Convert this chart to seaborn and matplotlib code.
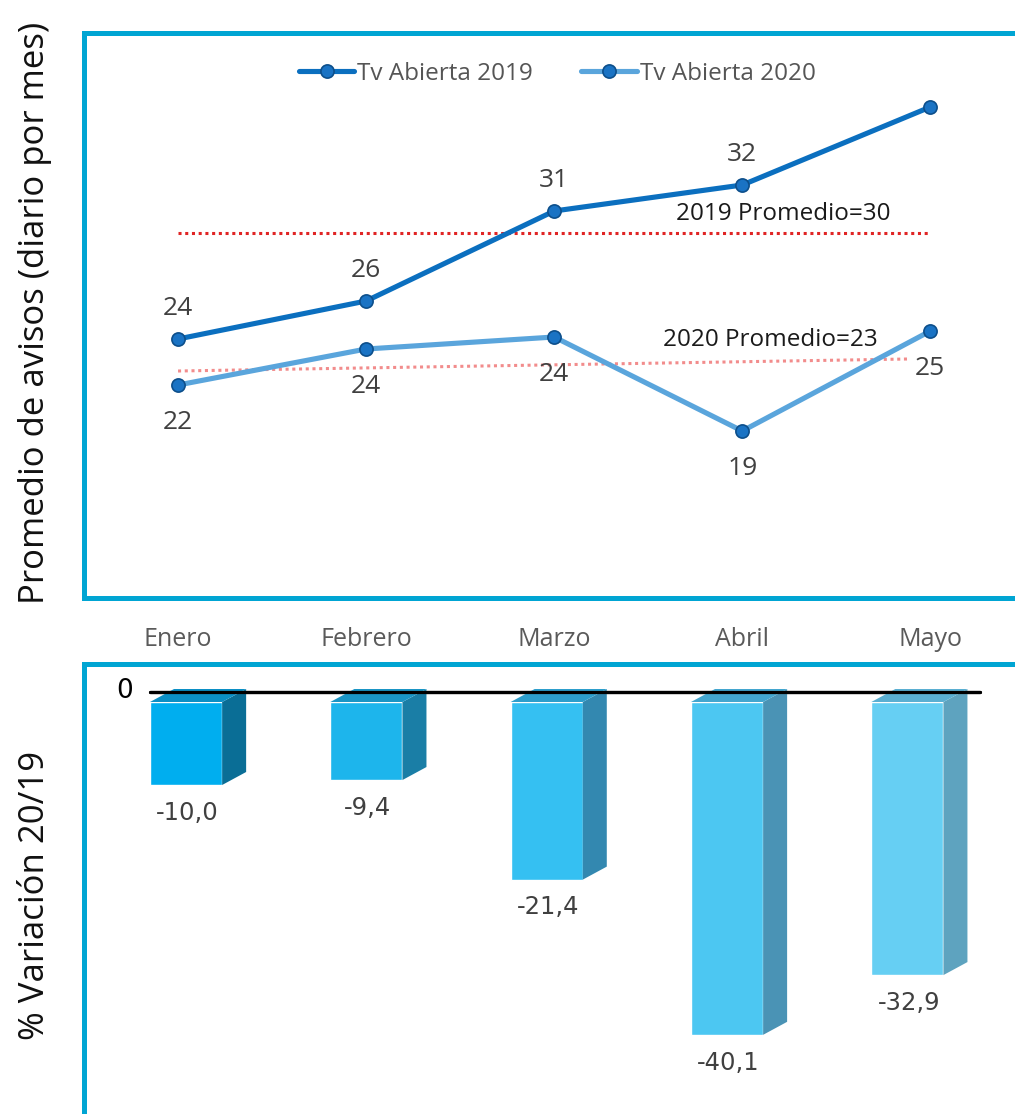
import matplotlib
matplotlib.use("Agg")
import matplotlib.pyplot as plt
import matplotlib.transforms as mtransforms
from matplotlib.patches import Polygon
import seaborn as sns
import pandas as pd

sns.set_theme(style="white")
plt.rcParams["font.family"] = ["Open Sans", "DejaVu Sans"]

# data
months = ["Enero", "Febrero", "Marzo", "Abril", "Mayo"]
tv_2019 = [24.2, 26.1, 30.6, 31.9, 35.8]
tv_2020 = [21.9, 23.7, 24.3, 19.6, 24.6]
labels_2019 = ["24", "26", "31", "32", ""]
labels_2020 = ["22", "24", "24", "19", "25"]
avg_2019 = [29.5, 29.5]
avg_2020 = [22.6, 23.2]
variation = [-10.0, -9.4, -21.4, -40.1, -32.9]
variation_labels = ["-10,0", "-9,4", "-21,4", "-40,1", "-32,9"]

front_colors = ["#00aeef", "#1db5ec", "#35c0f2", "#4cc7f2", "#66cff3"]
side_colors = ["#0a6e96", "#1a7ea6", "#3388b0", "#4a93b5", "#5ea3bf"]
top_colors = ["#0b8fc5", "#1a95c5", "#2d9ecc", "#43a6cf", "#5aafd2"]
border = "#00a5d3"

W, H = 1015, 1114
fig = plt.figure(figsize=(W / 100, H / 100), dpi=100)
ax1 = fig.add_axes([84 / W, 1 - 598 / H, (1030 - 84) / W, (598 - 33) / H])
ax2 = fig.add_axes([84 / W, 1 - 1125 / H, (1030 - 84) / W, (1125 - 664) / H])

# ---- top panel: lines
df = pd.DataFrame({"x": range(5), "y19": tv_2019, "y20": tv_2020})
mk = dict(marker="o", markersize=9.5, markerfacecolor="#1a73c4",
          markeredgecolor="#0d4f8b", markeredgewidth=1.2)
sns.lineplot(data=df, x="x", y="y19", ax=ax1, color="#0b6fbf", lw=3.7,
             label="Tv Abierta 2019", **mk)
sns.lineplot(data=df, x="x", y="y20", ax=ax1, color="#5aa5dc", lw=3.7,
             label="Tv Abierta 2020", **mk)
ax1.plot([0, 4], avg_2019, color="#e02424", lw=2.2, ls=(0, (1, 1.2)), zorder=1)
ax1.plot([0, 3.88], avg_2020, color="#f28c8c", lw=2.2, ls=(0, (1, 1.2)), zorder=1)
ax1.text(3.22, 30.45, "2019 Promedio=30", ha="center", va="center",
         fontsize=17.5, color="#1a1a1a")
ax1.text(3.15, 24.15, "2020 Promedio=23", ha="center", va="center",
         fontsize=17.5, color="#1a1a1a")

for i, (v, t) in enumerate(zip(tv_2019, labels_2019)):
    ax1.annotate(t, (i, v), xytext=(0, 22), textcoords="offset points",
                 ha="center", va="center", fontsize=19, color="#404040")
for i, (v, t) in enumerate(zip(tv_2020, labels_2020)):
    ax1.annotate(t, (i, v), xytext=(0, -27), textcoords="offset points",
                 ha="center", va="center", fontsize=19, color="#404040")

ax1.set_xlim(-0.5, 4.53)
ax1.set_ylim(11.25, 39.5)
ax1.set_yticks([])
ax1.set_xticks(range(5))
ax1.set_xticklabels(months, fontsize=18, color="#5a5a5a")
ax1.tick_params(axis="x", length=0, pad=21)
ax1.set_xlabel("")
ax1.set_ylabel("")
leg = ax1.legend(loc="upper center", bbox_to_anchor=(0.5, 0.988), ncol=2,
                 frameon=False, fontsize=17.5, handlelength=2.3,
                 handletextpad=0.1, columnspacing=2.0)
for t in leg.get_texts():
    t.set_color("#555555")

# ---- bottom panel: 3D-look bars
vdf = pd.DataFrame({"month": months, "var": variation})
sns.barplot(data=vdf, x="month", y="var", hue="month", palette=front_colors,
            width=0.4, legend=False, ax=ax2, saturation=1)
ax2.set_xlim(-0.566, 4.68)
ax2.set_ylim(-(1125 - 702) / 8.3, (702 - 664) / 8.3)
fig.canvas.draw()

dx, dy = 24, 13  # depth in pixels
for p, sc, tc in zip(ax2.patches, side_colors, top_colors):
    x0, w, h = p.get_x(), p.get_width(), p.get_height()
    (ax_, ay_), (bx_, by_) = ax2.transData.transform([(x0, 0), (x0 + w, 0)])
    (_, cy_) = ax2.transData.transform((x0 + w, h))
    side = Polygon([(bx_, by_), (bx_ + dx, by_ + dy), (bx_ + dx, cy_ + dy), (bx_, cy_)],
                   closed=True, transform=None, facecolor=sc, edgecolor="none", zorder=3)
    top = Polygon([(ax_, ay_), (bx_, by_), (bx_ + dx, by_ + dy), (ax_ + dx, ay_ + dy)],
                  closed=True, transform=None, facecolor=tc, edgecolor="none", zorder=3)
    fig.add_artist(side)
    fig.add_artist(top)
    p.set_zorder(3)

p0, p4 = ax2.patches[0], ax2.patches[-1]
shift = ax2.transData + mtransforms.ScaledTranslation(0, 0.10, fig.dpi_scale_trans)
zl, = ax2.plot([p0.get_x(), p4.get_x() + p4.get_width() * 1.5], [0, 0],
               color="black", lw=2.3, transform=shift)
zl.set_zorder(5)
fig.add_artist(zl)
ax2.text(p0.get_x(), 0, "0", transform=ax2.transData +
         mtransforms.ScaledTranslation(-0.25, 0.11, fig.dpi_scale_trans),
         ha="center", va="center", fontsize=19, color="black",
         family="DejaVu Sans")

for i, (v, t) in enumerate(zip(variation, variation_labels)):
    ax2.annotate(t, (i, v), xytext=(1, -20), textcoords="offset points",
                 ha="center", va="center", fontsize=17.5, color="#404040",
                 family="DejaVu Sans")

ax2.set_xticks([])
ax2.set_yticks([])
ax2.set_xlabel("")
ax2.set_ylabel("")

for ax in (ax1, ax2):
    for s in ("left", "top", "bottom"):
        ax.spines[s].set_color(border)
        ax.spines[s].set_linewidth(3.6)
    ax.spines["right"].set_visible(False)
ax2.spines["bottom"].set_visible(False)

fig.text(35 / W, 1 - 313 / H, "Promedio de avisos (diario por mes)",
         rotation=90, ha="center", va="center", fontsize=25, color="#111111")
fig.text(35 / W, 1 - 895 / H, "% Variación 20/19",
         rotation=90, ha="center", va="center", fontsize=25, color="#111111")

fig.savefig("out.png", dpi=100)
